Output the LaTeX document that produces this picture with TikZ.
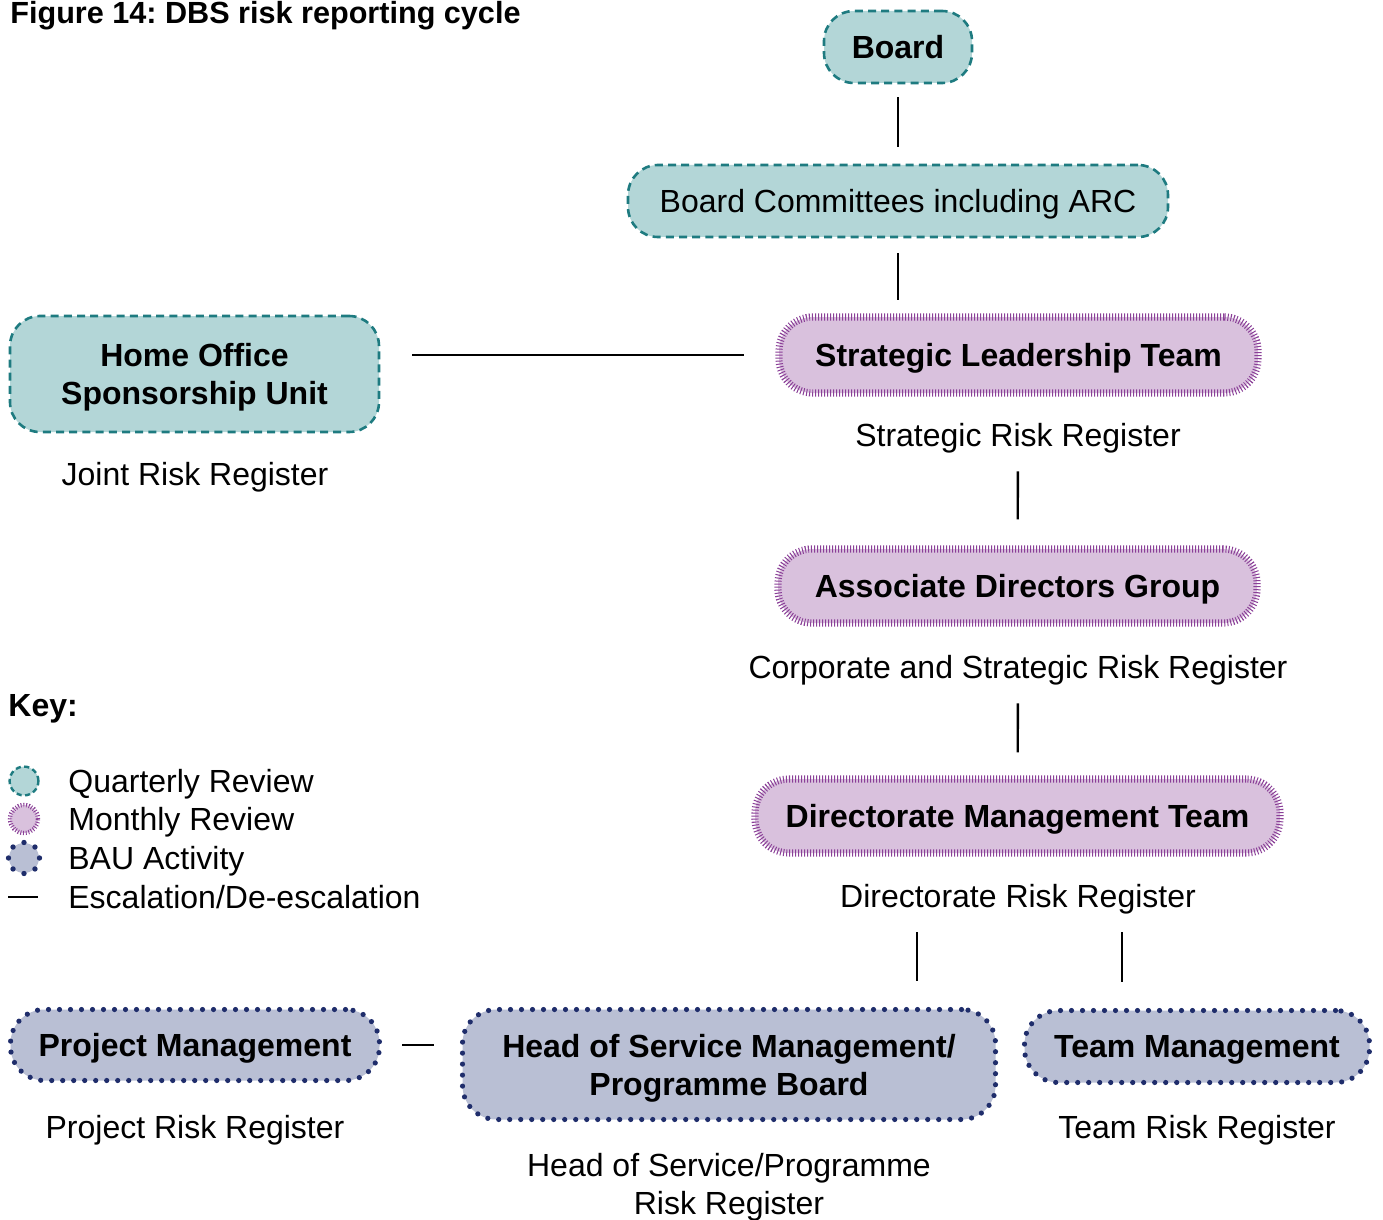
\documentclass[tikz,border=0pt]{standalone}
\usepackage{fontspec}
\setmainfont{Liberation Sans}
\usetikzlibrary{positioning, calc}

\definecolor{qfill}{HTML}{B3D6D7}
\definecolor{qline}{HTML}{1E7B80}
\definecolor{mfill}{HTML}{D9C1DD}
\definecolor{mline}{HTML}{8A3F97}
\definecolor{bfill}{HTML}{B9BFD4}
\definecolor{bline}{HTML}{1F2D6B}

\frenchspacing
\begin{document}
\begin{tikzpicture}[x=0.5pt, y=-0.5pt,
  txt/.style={font=\fontsize{16}{19}\selectfont, text depth=0pt},
  quarterly/.style={txt, draw=qline, fill=qfill, line width=1.3pt,
                    dash pattern=on 4pt off 2.6pt, rounded corners=15pt, align=center},
  monthly/.style={txt, draw=mline, fill=mfill, line width=3.6pt,
                  dash pattern=on 0.5pt off 1pt, rounded corners=17pt, align=center},
  bau/.style={txt, draw=bline, fill=bfill, line width=2.6pt, line cap=round,
              dash pattern=on 0pt off 5.5pt, rounded corners=17pt, align=center},
  reg/.style={txt, inner sep=0pt, align=center},
  link/.style={line width=1.2pt},
]
\useasboundingbox (0,0) rectangle (1383,1220);

\node[anchor=base west, inner sep=0pt, font=\fontsize{15.3}{19}\selectfont\bfseries] (title)
  at (10,23.5) {Figure 14: DBS risk reporting cycle};

% top of the chain
\node[quarterly, font=\fontsize{16}{19}\selectfont\bfseries,
      minimum width=74pt, minimum height=36pt] (board) at (898,47) {Board};
\node[quarterly, minimum width=270pt, minimum height=36pt] (bc) at (898,201)
  {Board Committees including ARC};
\node[monthly, font=\fontsize{16}{19}\selectfont\bfseries,
      minimum width=239.5pt, minimum height=38pt] (slt) at (1018.5,355)
  {Strategic Leadership Team};
\node[reg] (sltreg) at (1018,435) {Strategic Risk Register};
\node[monthly, font=\fontsize{16}{19}\selectfont\bfseries,
      minimum width=239.5pt, minimum height=37pt] (adg) at (1017.5,586)
  {Associate Directors Group};
\node[reg] (adgreg) at (1018,667) {Corporate and Strategic Risk Register};
\node[monthly, font=\fontsize{16}{19}\selectfont\bfseries,
      minimum width=262.5pt, minimum height=37pt] (dmt) at (1017.5,816)
  {Directorate Management Team};
\node[reg] (dmtreg) at (1018,896) {Directorate Risk Register};

% sponsor
\node[quarterly, font=\fontsize{16}{19}\selectfont\bfseries,
      minimum width=184.5pt, minimum height=58pt] (ho) at (194.5,374)
  {Home Office\\Sponsorship Unit};
\node[reg] (horeg) at (195,474) {Joint Risk Register};

% bottom row
\node[bau, font=\fontsize{16}{19}\selectfont\bfseries,
      minimum width=184.5pt, minimum height=35.5pt] (pm) at (195,1045)
  {Project Management};
\node[reg] (pmreg) at (195,1127) {Project Risk Register};
\node[bau, font=\fontsize{16}{19}\selectfont\bfseries,
      minimum width=266.5pt, minimum height=55pt] (hos) at (729,1064.5)
  {Head of Service Management/\\Programme Board};
\node[reg] (hosreg) at (729,1184) {Head of Service/Programme\\Risk Register};
\node[bau, font=\fontsize{16}{19}\selectfont\bfseries,
      minimum width=172.5pt, minimum height=36pt] (team) at (1197,1046.5)
  {Team Management};
\node[reg] (teamreg) at (1197,1127) {Team Risk Register};

% connectors
\draw[link, shorten <=6.5pt, shorten >=8.5pt] (board) -- (bc);
\draw[link, shorten <=7.5pt, shorten >=6.5pt] (bc) -- (slt.north -| bc);
\draw[link, shorten <=12.2pt, shorten >=13pt] (sltreg) -- (adg);
\draw[link, shorten <=12.2pt, shorten >=11.5pt] (adgreg) -- (dmt);
\draw[link, shorten <=12.2pt, shorten >=12.75pt] (dmtreg.south -| 917,0) -- (hos.north -| 917,0);
\draw[link, shorten <=12.2pt, shorten >=12.75pt] (dmtreg.south -| 1122,0) -- (team.north -| 1122,0);
\draw[link, shorten <=16pt, shorten >=15.5pt] (ho.east |- slt) -- (slt.west);
\draw[link, shorten <=10pt, shorten >=12.75pt] (pm.east) -- (pm.east -| hos.west);

% key
\node[anchor=west, txt, font=\fontsize{16}{19}\selectfont\bfseries, inner sep=0pt] (key) at (8,705) {Key:};
\draw[qline, fill=qfill, line width=1.2pt, dash pattern=on 2.6pt off 1.7pt] (24,781) circle[radius=7.2pt];
\draw[mline, fill=mfill, line width=2.2pt, dash pattern=on 0.45pt off 0.9pt] (24,819) circle[radius=7pt];
\fill[bfill] (24,858) circle[radius=7.5pt];
\foreach \a in {0,45,...,315}
  \fill[bline] (24,858) ++(\a:7.75pt) circle[radius=1.35pt];
\draw[link] (8,897) -- (38,897);
\node[reg, anchor=west] (kq) at (68,781) {Quarterly Review};
\node[reg, anchor=west] (km) at (68,819) {Monthly Review};
\node[reg, anchor=west] (kb) at (68,858) {BAU Activity};
\node[reg, anchor=west] (ke) at (68,897) {Escalation/De-escalation};
\end{tikzpicture}
\end{document}
